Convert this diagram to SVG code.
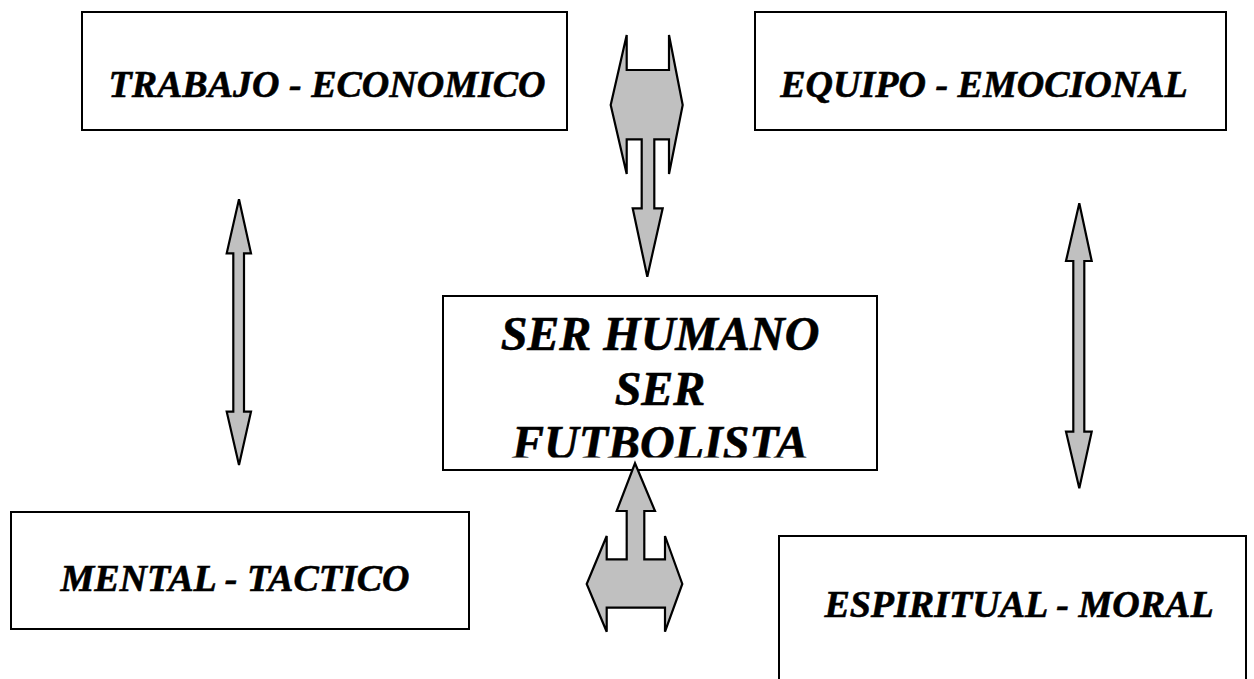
<svg xmlns="http://www.w3.org/2000/svg" width="1254" height="679" viewBox="0 0 1254 679">
<style>
.box{fill:#fff;stroke:#000;stroke-width:2}
.lbl{font-family:"Liberation Serif","Times New Roman",serif;font-weight:bold;font-style:italic;fill:#000;stroke:#000;stroke-width:0.6;text-anchor:middle}
.arr{fill:#c0c0c0;stroke:#000;stroke-width:2.2;stroke-linejoin:miter}
</style>
<defs>
<clipPath id="cclip"><rect x="444" y="297" width="432" height="160.5"/></clipPath>
</defs>
<rect width="1254" height="679" fill="#fff"/>
<g id="trabajo">
<rect class="box" x="82" y="12" width="485" height="118"/>
<text class="lbl" x="327" y="97" font-size="38">TRABAJO - ECONOMICO</text>
</g>
<g id="equipo">
<rect class="box" x="755" y="12" width="471" height="118"/>
<text class="lbl" x="984" y="97" font-size="38">EQUIPO - EMOCIONAL</text>
</g>
<g id="mental">
<rect class="box" x="11" y="512" width="458" height="117"/>
<text class="lbl" x="235" y="591" font-size="38">MENTAL - TACTICO</text>
</g>
<g id="espiritual">
<rect class="box" x="779" y="536" width="467" height="160"/>
<text class="lbl" x="1019" y="617" font-size="38">ESPIRITUAL - MORAL</text>
</g>
<g id="center">
<rect class="box" x="443" y="296" width="434" height="174"/>
<g clip-path="url(#cclip)">
<text class="lbl" x="660" y="350" font-size="48">SER HUMANO</text>
<text class="lbl" x="660" y="405" font-size="48">SER</text>
<text class="lbl" x="660" y="459" font-size="48">FUTBOLISTA</text>
</g>
</g>
<g id="connectors">
<path class="arr" d="M626.7,35 L626.7,70 L669,70 L669,35 L682.7,105 L669,174 L669,139.3 L654.3,139.3 L654.3,208.3 L662.7,208.3 L647.3,276.7 L632.7,208.3 L641.7,208.3 L641.7,139.3 L626.7,139.3 L626.7,174 L610.7,105 Z"/>
<path class="arr" d="M635,463.3 L655,511 L644.3,511 L644.3,559.3 L665,559.3 L665,536 L682.3,584 L665,631.7 L665,607.7 L606.7,607.7 L606.7,631.7 L586.7,584 L606.7,536 L606.7,559.3 L626.7,559.3 L626.7,511 L616.7,511 Z"/>
<path class="arr" d="M239,199.3 L251,253.3 L244,253.3 L244,411.7 L251,411.7 L239,465 L226.7,411.7 L233.3,411.7 L233.3,253.3 L226.7,253.3 Z"/>
<path class="arr" d="M1079.3,203.3 L1091.7,261 L1084.3,261 L1084.3,431.7 L1091.7,431.7 L1079.3,488.3 L1066,431.7 L1073.3,431.7 L1073.3,261 L1066,261 Z"/>
</g>
</svg>
